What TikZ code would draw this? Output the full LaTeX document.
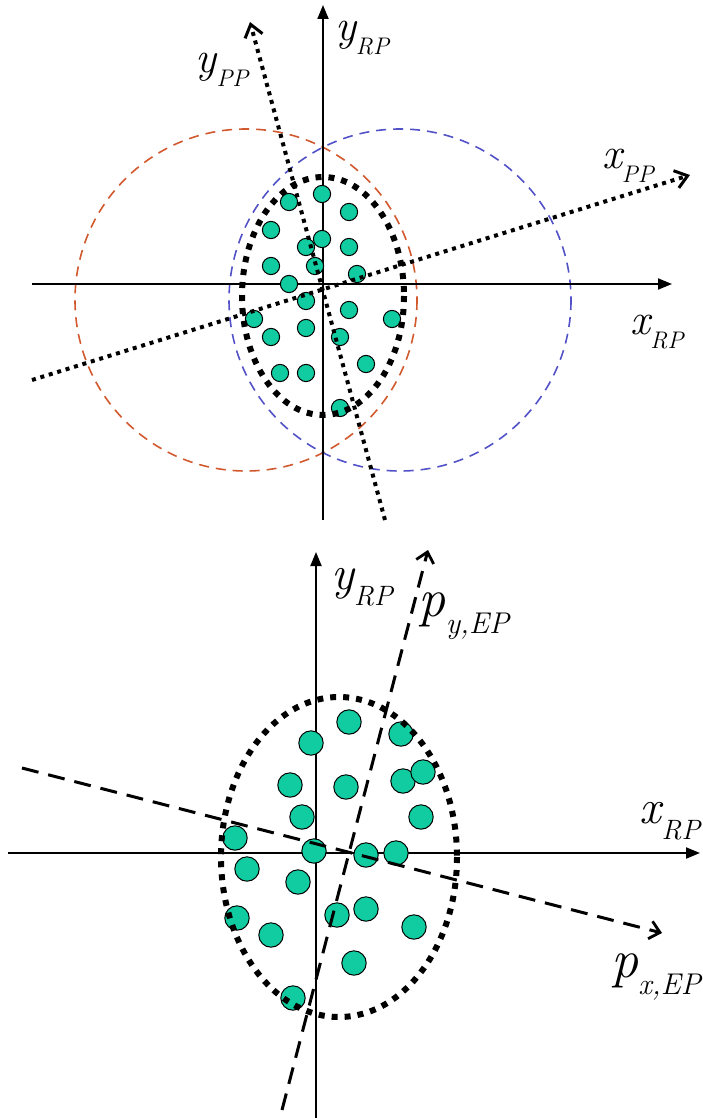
\documentclass[tikz,border=0pt]{standalone}
\usetikzlibrary{arrows.meta}
\definecolor{dotc}{HTML}{10CCA0}
\definecolor{redc}{HTML}{D2582E}
\definecolor{bluec}{HTML}{5252C8}
% axis label: main letter, lowered subscript
\newcommand{\axlab}[5]{{\fontsize{#1}{#1}\selectfont\itshape #4}\raisebox{-#3}{\fontsize{#2}{#2}\selectfont\itshape #5}}

\begin{document}
\begin{tikzpicture}[x=0.5pt, y=-0.5pt,
  axis/.style={line width=1pt, -{Triangle[length=7pt,width=5.5pt]}},
  lab/.style={inner sep=0pt},
  dotsm/.style={circle, draw=black, line width=0.5pt, fill=dotc, minimum size=8.6pt, inner sep=0pt},
  dotbg/.style={circle, draw=black, line width=0.5pt, fill=dotc, minimum size=12.2pt, inner sep=0pt},
  ring/.style={line width=0.8pt, dash pattern=on 5pt off 3.5pt},
  hull/.style={line width=3pt, dash pattern=on 3pt off 3.5pt},
  pdot/.style={line width=2pt, dash pattern=on 2pt off 2.4pt, -{Straight Barb[length=6pt,width=9pt,line width=1.5pt]}},
  pdash/.style={line width=1.5pt, dash pattern=on 8.5pt off 5pt, -{Straight Barb[length=5pt,width=9pt,line width=1.4pt]}}]
\useasboundingbox (0,0) rectangle (702,1118);

% ---- upper panel : reference frame and principal frame ----
\draw[ring, redc]  (246,300) circle[radius=171];
\draw[ring, bluec] (400,300) circle[radius=171];

\coordinate (xa1) at (32,284);  \coordinate (xb1) at (672,284);
\coordinate (ya1) at (323,520); \coordinate (yb1) at (323,5);
\draw[axis] (xa1) -- (xb1);
\draw[axis] (ya1) -- (yb1);

\foreach \x/\y [count=\i] in {322/194, 289/202, 349/212, 271/230, 322/239, 306/247, 349/247,
  271/266, 315/266, 357/274, 289/284, 306/301, 349/310, 254/319, 392/319, 306/328,
  271/337, 340/337, 366/364, 280/373, 306/373, 340/408}
  \node[dotsm] (t\i) at (\x,\y) {};

\draw[hull] (323,296) ellipse[x radius=81, y radius=119];

\coordinate (ppya) at (385,520); \coordinate (ppyb) at (250,22);
\coordinate (ppxa) at (32,380);  \coordinate (ppxb) at (690,175);
\draw[pdot] (ppya) -- (ppyb);
\draw[pdot] (ppxa) -- (ppxb);

\node[lab] (yrp1) at (362,38)  {\axlab{22pt}{12pt}{7pt}{y}{RP}};
\node[lab] (ypp)  at (222,70)  {\axlab{22pt}{12pt}{7pt}{y}{PP}};
\node[lab] (xpp)  at (628,166) {\axlab{22pt}{12pt}{7pt}{x}{PP}};
\node[lab] (xrp1) at (657,332) {\axlab{22pt}{12pt}{7pt}{x}{RP}};

% ---- lower panel : eigen-directions of the point set ----
\coordinate (xa2) at (8,853);    \coordinate (xb2) at (700,853);
\coordinate (ya2) at (316,1118); \coordinate (yb2) at (316,552);
\draw[axis] (xa2) -- (xb2);
\draw[axis] (ya2) -- (yb2);

\foreach \x/\y [count=\i] in {349/722, 401/734, 311/743, 290/785, 346/787, 403/781, 423/772,
  302/817, 421/817, 235/838, 314/851, 366/855, 396/853, 247/869, 298/882, 366/909,
  337/915, 237/918, 414/927, 271/935, 354/963, 293/998}
  \node[dotbg] (b\i) at (\x,\y) {};

\draw[hull] (339,857) ellipse[x radius=118, y radius=160];

\coordinate (epya) at (282,1110); \coordinate (epyb) at (428,550);
\coordinate (epxa) at (22,768);   \coordinate (epxb) at (662,933);
\draw[pdash] (epya) -- (epyb);
\draw[pdash] (epxa) -- (epxb);

\node[lab] (yrp2) at (362,587) {\axlab{24pt}{14pt}{8pt}{y}{RP}};
\node[lab] (pyep) at (464,616) {\axlab{27pt}{15pt}{8.5pt}{p}{y,EP}};
\node[lab] (xrp2) at (670,821) {\axlab{24pt}{14pt}{8pt}{x}{RP}};
\node[lab] (pxep) at (656,977) {\axlab{27pt}{15pt}{8.5pt}{p}{x,EP}};
\end{tikzpicture}
\end{document}
